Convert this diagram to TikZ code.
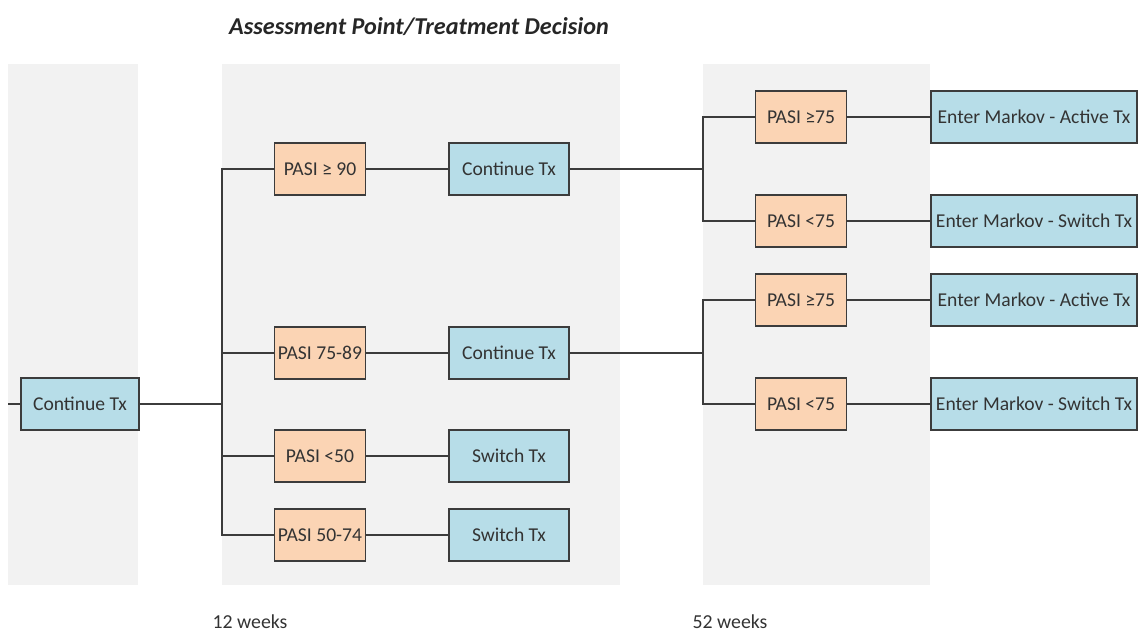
\documentclass[tikz,border=0pt]{standalone}
\usepackage{fontspec}
\setmainfont{Carlito}
\definecolor{pasifill}{HTML}{FBD4B4}
\definecolor{txfill}{HTML}{B7DDE8}
\definecolor{bandfill}{HTML}{F2F2F2}
\definecolor{edgegray}{HTML}{3C3C3C}

\begin{document}
\begin{tikzpicture}[x=0.5pt, y=-0.5pt,
                    pasi/.style ={rectangle, draw=edgegray, fill=pasifill, line width=0.6pt, minimum width=45.5pt, minimum height=26pt, inner sep=0pt, text=black!80, font=\fontsize{9.8}{11}\selectfont},
                    tx/.style   ={pasi, fill=txfill, minimum width=60pt},
                    markov/.style={tx, minimum width=103pt},
                    band/.style ={fill=bandfill, draw=none},
                    link/.style ={-, draw, color=edgegray, line width=0.6pt},
                    label/.style={rectangle, inner sep=0pt, text=black!80, font=\fontsize{9.9}{11}\selectfont}]

      \useasboundingbox (0,0) rectangle (1138,635);
      % grey bands
      \path[band] (8,64)   rectangle (138,585);
      \path[band] (222,64) rectangle (620,585);
      \path[band] (703,64) rectangle (930,585);

      \node[label, font=\fontsize{12.1}{14}\selectfont\bfseries\itshape, text=black!85] at(419, 27) (title) {Assessment Point/Treatment Decision};

      \node[tx, minimum width=59pt] at(80, 404)  (start)  {Continue Tx};
      \node[pasi]   at(320, 169)  (p90)    {PASI ≥ 90};
      \node[pasi]   at(320, 353)  (p75)    {PASI 75-89};
      \node[pasi]   at(320, 456)  (p50)    {PASI <50};
      \node[pasi]   at(320, 535)  (p74)    {PASI 50-74};
      \node[tx]     at(509, 169)  (cont1)  {Continue Tx};
      \node[tx]     at(509, 353)  (cont2)  {Continue Tx};
      \node[tx]     at(509, 456)  (sw1)    {Switch Tx};
      \node[tx]     at(509, 535)  (sw2)    {Switch Tx};
      \node[pasi]   at(801, 117)  (a75)    {PASI ≥75};
      \node[pasi]   at(801, 221)  (a74)    {PASI <75};
      \node[pasi]   at(801, 300)  (b75)    {PASI ≥75};
      \node[pasi]   at(801, 404)  (b74)    {PASI <75};
      \node[markov] at(1034, 117) (aact)   {Enter Markov - Active Tx};
      \node[markov] at(1034, 221) (asw)    {Enter Markov - Switch Tx};
      \node[markov] at(1034, 300) (bact)   {Enter Markov - Active Tx};
      \node[markov] at(1034, 404) (bsw)    {Enter Markov - Switch Tx};

      \node[label] at(250, 622) (wk12) {12 weeks};
      \node[label] at(730, 622) (wk52) {52 weeks};

      \coordinate (in)  at(8, 404);
      \coordinate (j12) at(222, 404);
      \coordinate (ja)  at(703, 169);
      \coordinate (jb)  at(703, 353);

      \path[link] (in)    -- (start);
      \path[link] (start) -- (j12);
      \path[link] (j12)   |- (p90);
      \path[link] (j12)   |- (p75);
      \path[link] (j12)   |- (p50);
      \path[link] (j12)   |- (p74);
      \path[link] (p90)   -- (cont1);
      \path[link] (p75)   -- (cont2);
      \path[link] (p50)   -- (sw1);
      \path[link] (p74)   -- (sw2);
      \path[link] (cont1) -- (ja);
      \path[link] (cont2) -- (jb);
      \path[link] (ja)    |- (a75);
      \path[link] (ja)    |- (a74);
      \path[link] (jb)    |- (b75);
      \path[link] (jb)    |- (b74);
      \path[link] (a75)   -- (aact);
      \path[link] (a74)   -- (asw);
      \path[link] (b75)   -- (bact);
      \path[link] (b74)   -- (bsw);
    \end{tikzpicture}
\end{document}
